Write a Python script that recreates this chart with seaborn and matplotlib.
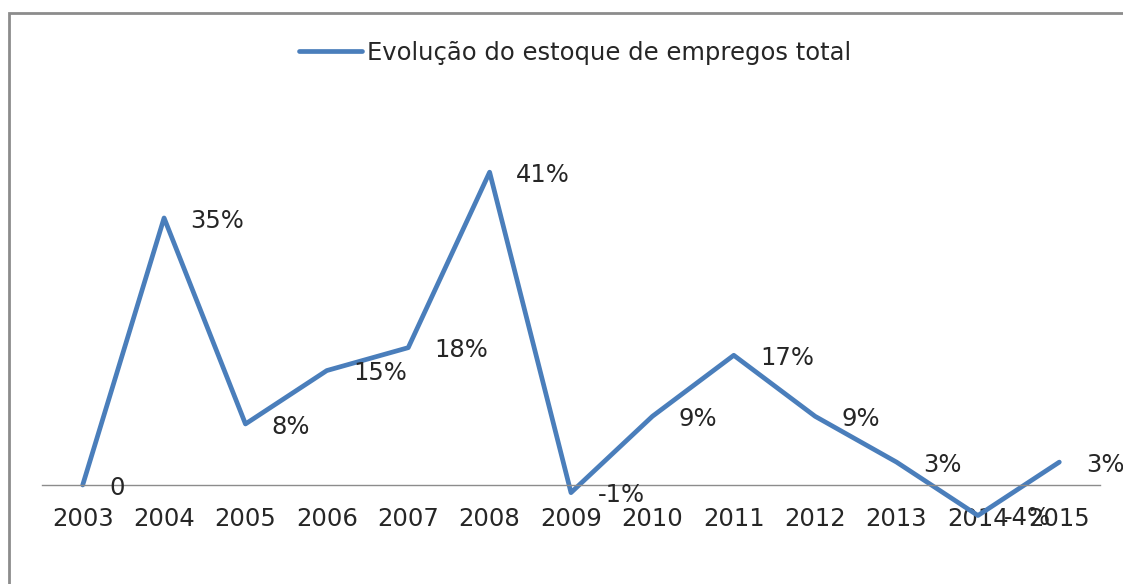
import matplotlib
matplotlib.use("Agg")
import matplotlib.pyplot as plt
import seaborn as sns
import pandas as pd
from matplotlib.patches import Rectangle

years = ["2003", "2004", "2005", "2006", "2007", "2008", "2009",
         "2010", "2011", "2012", "2013", "2014", "2015"]
values = [0, 35, 8, 15, 18, 41, -1, 9, 17, 9, 3, -4, 3]
labels = ["0", "35%", "8%", "15%", "18%", "41%", "-1%", "9%", "17%", "9%", "3%", "-4%", "3%"]
series_name = "Evolução do estoque de empregos total"

sns.set_theme(style="white")
plt.rcParams['font.family'] = ['DejaVu Sans']

FS = 17.5
W, H = 1123, 584
fig = plt.figure(figsize=(W / 100, H / 100), dpi=100)
left, right = 42 / W, 1100 / W
ymin, ymax = -10, 50
pxu = 7.63
top_px = 485 - ymax * pxu
bot_px = 485 - ymin * pxu
ax = fig.add_axes([left, 1 - bot_px / H, right - left, (bot_px - top_px) / H])

df = pd.DataFrame({"pos": list(range(len(years))), "val": values, "serie": series_name})
color = "#4A7EBB"
sns.lineplot(data=df, x="pos", y="val", hue="serie", palette=[color], linewidth=3.4,
             ax=ax, sort=False, legend=True)

ax.set_xlim(-0.5, len(years) - 0.5)
ax.set_ylim(ymin, ymax)
ax.set_xlabel("")
ax.set_ylabel("")
ax.set_yticks([])
for s in ["top", "right", "left"]:
    ax.spines[s].set_visible(False)
ax.spines["bottom"].set_position(("data", 0))
ax.spines["bottom"].set_color("#8c8c8c")
ax.spines["bottom"].set_linewidth(1.0)
ax.set_xticks(range(len(years)))
ax.set_xticklabels(years, fontsize=FS, color="#262626")
ax.tick_params(axis="x", length=0, pad=16)

for i, (v, lab) in enumerate(zip(values, labels)):
    ax.annotate(lab, xy=(i, v), xytext=(19, -2), textcoords="offset points",
                ha="left", va="center", fontsize=FS, color="#262626")

leg = ax.legend(loc="center", bbox_to_anchor=(0.512, 1 - 53 / H),
                bbox_transform=fig.transFigure, frameon=False, fontsize=FS,
                handlelength=2.6, handletextpad=0.2)
for t in leg.get_texts():
    t.set_color("#262626")

fig.patches.append(Rectangle((8.5 / W, -0.2), 1.5, 1.2 - 13 / H,
                             transform=fig.transFigure, fill=False,
                             edgecolor="#8c8c8c", linewidth=2, clip_on=False))

fig.savefig("out.png", dpi=100)
